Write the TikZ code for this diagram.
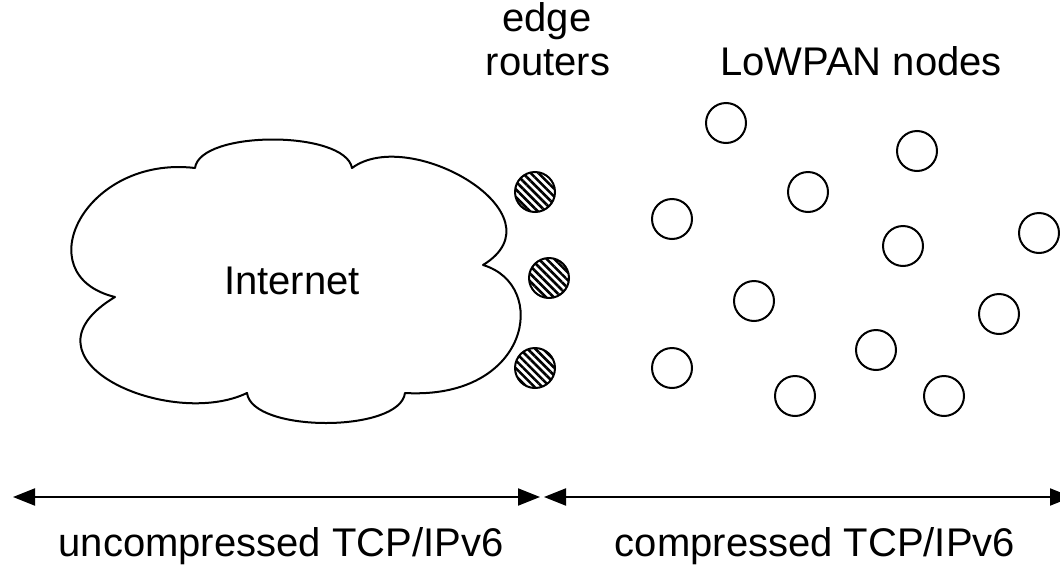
\documentclass[tikz,border=0pt]{standalone}
\usepackage{fontspec}
\setmainfont{Liberation Sans}
\usetikzlibrary{arrows.meta,patterns.meta}
\tikzset{
  lbl/.style={font=\fontsize{40}{45}\selectfont, inner sep=0pt},
  lownode/.style={circle, draw, line width=2pt, minimum size=40pt, inner sep=0pt},
  router/.style={circle, draw, line width=2pt, minimum size=40pt, inner sep=0pt,
    pattern={Lines[angle=-45, distance=5.5pt, line width=2.6pt]}},
  cloudline/.style={line width=2pt, line join=round},
  span/.style={line width=2pt, {Triangle[length=22pt, width=17pt]}-{Triangle[length=22pt, width=17pt]}}
}
\begin{document}
\begin{tikzpicture}[x=1pt, y=-1pt]
\useasboundingbox (0,0) rectangle (1060,568);

% Internet cloud
\draw[cloudline] (195,168)
  .. controls (200,130) and (345,130) .. (352,168)
  .. controls (410,125) and (565,215) .. (483,265)
  .. controls (550,285) and (530,400) .. (405,393)
  .. controls (400,433) and (252,433) .. (247,393)
  .. controls (170,430) and (10,360) .. (115,297)
  .. controls (25,275) and (85,155) .. cycle;
\node[lbl, anchor=base] (inet) at (292,294) {Internet};

% edge routers
\node[router] (r1) at (535,192) {};
\node[router] (r2) at (549,278) {};
\node[router] (r3) at (535,368) {};

% LoWPAN nodes
\node[lownode] (n1) at (726,123) {};
\node[lownode] (n2) at (917,151) {};
\node[lownode] (n3) at (808,192) {};
\node[lownode] (n4) at (672,219) {};
\node[lownode] (n5) at (903,246) {};
\node[lownode] (n6) at (1039,233) {};
\node[lownode] (n7) at (754,301) {};
\node[lownode] (n8) at (999,314) {};
\node[lownode] (n9) at (876,350) {};
\node[lownode] (n10) at (672,368) {};
\node[lownode] (n11) at (795,396) {};
\node[lownode] (n12) at (944,396) {};

% headings
\node[lbl, anchor=base] (hedge) at (547,31) {edge};
\node[lbl, anchor=base] (hrout) at (548,75) {routers};
\node[lbl, anchor=base] (hlow) at (861,75) {LoWPAN nodes};

% extent arrows
\coordinate (aL) at (13,497);
\coordinate (aM1) at (540,497);
\coordinate (aM2) at (544,497);
\coordinate (aR) at (1072,497);
\draw[span] (aL) -- (aM1);
\draw[span] (aM2) -- (aR);

\node[lbl, anchor=base] (unc) at (281,556) {uncompressed TCP/IPv6};
\node[lbl, anchor=base] (cmp) at (815,556) {compressed TCP/IPv6};
\end{tikzpicture}
\end{document}
